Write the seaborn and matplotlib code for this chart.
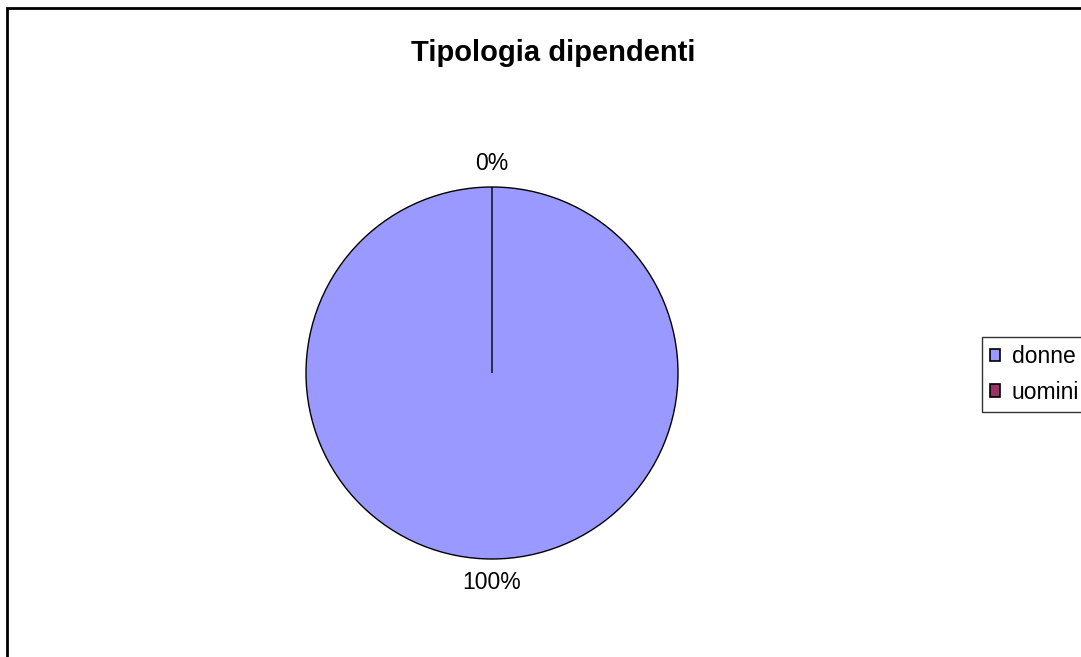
import matplotlib
matplotlib.use("Agg")
import matplotlib.pyplot as plt
import matplotlib.patches as mpatches
import seaborn as sns

# dati
categorie = ["donne", "uomini"]
valori = [100, 0]
colori = ["#9999FF", "#993366"]

sns.set_theme(style="white")
plt.rcParams['font.family'] = ['Liberation Sans', 'DejaVu Sans']
plt.rcParams['text.color'] = 'black'

fig = plt.figure(figsize=(10.81, 6.57), dpi=100)
fig.patch.set_facecolor("white")

# cornice del grafico (lati destro e basso fuori dall'immagine)
fig.patches.append(mpatches.Rectangle((7 / 1081, -0.2), 1.2, 1.0 - 8 / 657 + 0.2,
                                      transform=fig.transFigure, fill=False,
                                      edgecolor="black", linewidth=2, zorder=0))

ax = fig.add_axes([306 / 1081, (657 - 373 - 186) / 657, 372 / 1081, 372 / 657])
wedges, testi, pct = ax.pie(valori, colors=colori, startangle=90, counterclock=False,
                            autopct="%1.0f%%", pctdistance=1.125,
                            wedgeprops=dict(edgecolor="black", linewidth=1),
                            textprops=dict(fontsize=16.5, color="black"))
# contorno del cerchio senza il raggio orizzontale della fetta al 100%
wedges[0].set_edgecolor("none")
ax.add_patch(mpatches.Circle((0, 0), 1, fill=False, edgecolor="black", linewidth=1))
for p in ax.patches:
    p.set_clip_on(False)
ax.set_xlim(-1, 1)
ax.set_ylim(-1, 1)
ax.set_aspect("equal")
ax.axis("off")

fig.text(553 / 1081, 1 - 53 / 657, "Tipologia dipendenti", ha="center", va="center",
         fontsize=21, fontweight="bold")

handles = [mpatches.Patch(facecolor=c, edgecolor="black", linewidth=1.2) for c in colori]
leg = fig.legend(handles, categorie, loc="upper left",
                 bbox_to_anchor=(982 / 1081, 1 - 337 / 657),
                 fontsize=16.5, frameon=True, fancybox=False, edgecolor="black",
                 handlelength=0.45, handleheight=0.45, handletextpad=0.5,
                 borderpad=0.35, labelspacing=0.55, borderaxespad=0)
leg.get_frame().set_linewidth(1)

fig.savefig("out.png", dpi=100)
